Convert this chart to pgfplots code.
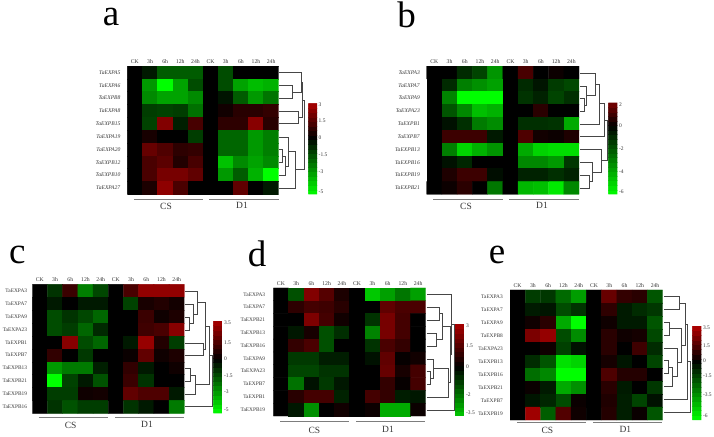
\documentclass[border=0pt]{standalone}
\usepackage{fontspec}
\setmainfont{Liberation Serif}
\usepackage{pgfplots}
\pgfplotsset{compat=1.18}
\definecolor{txt}{RGB}{55,55,55}
\definecolor{dend}{RGB}{70,70,70}
\definecolor{grp}{RGB}{125,125,125}
\pgfplotsset{
 colormap={ca}{rgb255(0cm)=(0,255,0); rgb255(5cm)=(0,0,0); rgb255(8cm)=(170,0,0)},
 colormap={cb}{rgb255(0cm)=(0,255,0); rgb255(6cm)=(0,0,0); rgb255(8cm)=(120,0,0)},
 colormap={cc}{rgb255(0cm)=(0,255,0); rgb255(10cm)=(0,0,0); rgb255(17cm)=(170,0,0)},
 colormap={cd}{rgb255(0cm)=(0,200,0); rgb255(7cm)=(0,0,0); rgb255(13cm)=(170,0,0)},
 colormap={ce}{rgb255(0cm)=(0,255,0); rgb255(12cm)=(0,0,0); rgb255(19cm)=(180,0,0)},
 heat/.style n args={7}{% x0, y top, y bottom, x1, min, max, labelfont
  at={(#1pt,436pt-#3pt)},anchor=south west,scale only axis,
  width=#4pt-#1pt,height=#3pt-#2pt,
  xmin=-0.5,xmax=9.5,ymin=-0.5,ymax=9.5,y dir=reverse,
  point meta min=#5,point meta max=#6,
  xtick={0,...,9},ytick={0,...,9},
  xticklabels={CK,3h,6h,12h,24h,CK,3h,6h,12h,24h},
  xticklabel pos=upper,
  major tick length=0pt,axis line style={draw=none},
  x tick label style={font=\fontsize{5.7}{6}\selectfont,text=txt,inner sep=0pt,anchor=base,yshift=2.5pt},
  y tick label style={font=\fontsize{#7}{6}\selectfont,text=txt,inner sep=0pt,xshift=-5pt},
  colorbar sampled,
 },
 cbar/.style n args={4}{% xshift, width, height, ticks
  colorbar style={samples=21,at={(parent axis.south east)},anchor=south west,
   xshift=#1pt-8.5pt,width=#2pt,height=#3pt,
   major tick length=0pt,axis line style={draw=none},
   y tick label style={font=\fontsize{5.5}{6}\selectfont,text=txt,inner sep=0pt,xshift=1.5pt},
   #4},
 },
 hm/.style={matrix plot*,mesh/cols=10,point meta=explicit},
 dd/.style={draw=dend,line width=0.6pt,no marks,line join=miter},
 gl/.style={draw=grp,line width=0.9pt,no marks},
 over/.style 2 args={% reference crop offset
  at={(0pt,0pt)},anchor=south west,scale only axis,width=714pt,height=436pt,hide axis,clip=false,
  xmin={-3*#1},xmax={3*(714-#1)},ymin={-3*#2},ymax={3*(436-#2)},y dir=reverse},
}
\newcommand{\fs}[2]{\fontsize{#1}{#1}\selectfont #2}
\tikzset{letter/.style={inner sep=0pt,anchor=base}}
\begin{document}
\begin{tikzpicture}
\path[use as bounding box] (0pt,0pt) rectangle (714pt,436pt);
% ---------- panel a
\begin{axis}[heat={127.3}{66}{194.3}{278.7}{-5}{3}{5.6},colormap name=ca,
  y tick label style={xshift=-1.7pt},
  yticklabels={\emph{TaEXPA5},\emph{TaEXPA6},\emph{TaEXPB8},\emph{TaEXPA8},\emph{TaEXPB15},\emph{TaEXPA19},\emph{TaEXPA20},\emph{TaEXPB12},\emph{TaEXPB10},\emph{TaEXPA27}},
  cbar={29.6}{8.7}{91}{ytick={2.9,1.5,0,-1.5,-3,-4.8},yticklabels={3,1.5,0,-1.5,-3,-5}}]
\addplot[hm] table[header=false,row sep=\\,x expr={mod(\coordindex,10)},y expr={floor(\coordindex/10)},meta index=0]{
0\\-0.5\\-1.8\\-1.8\\-1.8\\0\\-1.5\\0\\0\\0\\
0\\-3\\-5\\-3.2\\-1.5\\0\\-1.5\\-3.2\\-3.7\\-3.5\\
0\\-2.7\\-3.2\\-3.2\\-2.7\\0\\-0.4\\-1.8\\-3\\-2.3\\
0\\-1.2\\-1.3\\-1.2\\-2.2\\0\\0.3\\0.7\\0.7\\0.9\\
0\\-1.3\\2.3\\-0.6\\1.2\\0\\0.8\\0.8\\2.4\\0.7\\
0\\0.4\\0\\0\\-1.2\\0\\-2\\-2\\-3\\-2.5\\
0\\1.8\\1.4\\0.8\\0.9\\0\\-2\\-2\\-3\\-2.5\\
0\\1.3\\1.6\\0.6\\1.2\\0\\-3.8\\-2.7\\-3.2\\-2.7\\
0\\1.3\\2.1\\2.1\\1.7\\0\\-3\\-1.8\\-3.5\\-5\\
0\\0.5\\2.5\\1.3\\0\\0\\0\\1.7\\0\\-0.5\\
};
\end{axis}
% ---------- panel b
\begin{axis}[heat={426.7}{66}{194.3}{579}{-6}{2}{5.6},colormap name=cb,
  y tick label style={xshift=-1.7pt},
  yticklabels={\emph{TaEXPA3},\emph{TaEXPA7},\emph{TaEXPA9},\emph{TaEXPA23},\emph{TaEXPB1},\emph{TaEXPB7},\emph{TaEXPB13},\emph{TaEXPB16},\emph{TaEXPB19},\emph{TaEXPB21}},
  cbar={29.3}{9}{91.7}{ytick={1.85,0,-2,-4,-5.8},yticklabels={2,0,-2,-4,-6}}]
\addplot[hm] table[header=false,row sep=\\,x expr={mod(\coordindex,10)},y expr={floor(\coordindex/10)},meta index=0]{
0\\0\\-1\\-1.6\\-3.5\\0\\1.2\\0\\0.2\\0\\
0\\-1\\-3\\-3.4\\-3.8\\0\\-1\\-0.5\\-1.4\\-1.7\\
0\\-3.1\\-6\\-6\\-6\\0\\-1.2\\-0.8\\-1.6\\-1.1\\
0\\-2\\-3.2\\-4.5\\-4.2\\0\\0\\0.7\\0\\0\\
0\\-0.4\\-1.1\\-2.9\\-3.3\\0\\-1.1\\-1.1\\-1.2\\-4\\
0\\1\\1\\1\\-0.6\\0\\1.3\\0.3\\0.2\\0.5\\
0\\-3\\-5\\-4.2\\-3.5\\0\\-4\\-5\\-5.2\\-5.2\\
0\\-0.4\\-0.9\\0\\0\\0\\-3.2\\-3.2\\-3.6\\-1.3\\
0\\0.5\\1\\1\\-0.3\\0\\-0.8\\-0.8\\-1.1\\-0.8\\
0\\0.2\\0.7\\0\\-2.8\\0\\-4.3\\-4.5\\-5.5\\-3.2\\
};
\end{axis}
% ---------- panel c
\begin{axis}[heat={32.3}{284.3}{413.3}{184.3}{-5}{3.5}{5.4},colormap name=cc,
  yticklabels={TaEXPA3,TaEXPA7,TaEXPA9,TaEXPA23,TaEXPB1,TaEXPB7,TaEXPB13,TaEXPB21,TaEXPB19,TaEXPB16},
  cbar={29}{9}{92.3}{ytick={3.3,1.5,0,-1.5,-3,-4.7},yticklabels={3.5,1.5,0,-1.5,-3,-5}}]
\addplot[hm] table[header=false,row sep=\\,x expr={mod(\coordindex,10)},y expr={floor(\coordindex/10)},meta index=0]{
0\\-1\\1.2\\-2.5\\-1.4\\0\\1.5\\3\\3\\3\\
0\\-0.5\\0\\-0.5\\-0.5\\0\\-1.3\\0.5\\0.7\\0.4\\
0\\-1.5\\-1\\-1.4\\-2\\0\\0\\1.2\\0.3\\0.6\\
0\\-1.5\\-1.2\\-2\\-0.8\\0\\0\\1.3\\1.5\\2.8\\
0\\0\\2.8\\-1.5\\-2\\0\\-0.5\\3.1\\0.7\\-1.2\\
0\\1\\0\\-1.1\\0\\0\\0.2\\2\\0.3\\0.6\\
0\\-3\\-2.4\\-2.4\\-0.6\\0\\1\\-0.5\\0\\0.3\\
0\\-5\\-1.3\\-0.5\\-1.6\\0\\1.2\\-1\\0\\0\\
0\\-1.2\\-1.2\\0.3\\0.4\\0\\2\\1.6\\1.6\\-0.5\\
0\\-1\\-1.6\\-1.2\\-1.2\\0\\-1\\-0.5\\0\\-2.4\\
};
\end{axis}
% ---------- panel d
\begin{axis}[heat={273.3}{288}{416}{425.7}{-3.5}{3}{5.4},colormap name=cd,
  y tick label style={xshift=-3pt},
  yticklabels={TaEXPA3,TaEXPA7,TaEXPB21,TaEXPB13,TaEXPB16,TaEXPA9,TaEXPA23,TaEXPB7,TaEXPB1,TaEXPB19},
  cbar={29.3}{9.3}{92}{ytick={2.9,1.5,0,-2,-3.3},yticklabels={3,1.5,0,-2,-3.5}}]
\addplot[hm] table[header=false,row sep=\\,x expr={mod(\coordindex,10)},y expr={floor(\coordindex/10)},meta index=0]{
0\\-1.4\\2.3\\1.5\\0.5\\0\\-3.5\\-2.8\\-2.1\\-2.8\\
0\\0.8\\1.2\\1.1\\0.7\\0\\0\\1.7\\1.3\\1.3\\
0\\0\\2.2\\1.2\\0.3\\0\\-0.9\\2.1\\1.2\\0\\
0\\-0.4\\0.4\\-1.4\\-0.8\\0\\-2.3\\2.1\\1.2\\0\\
0\\0.9\\1.3\\-1.4\\0\\0\\-0.9\\1.3\\0.9\\0\\
0\\-1\\-1\\-0.5\\-0.5\\0\\-0.3\\1.7\\0.1\\0.3\\
0\\-1.2\\-1.2\\-0.9\\-0.9\\0\\0\\1.8\\0.4\\1.2\\
0\\-2\\-0.3\\-1\\-0.4\\0\\0\\0.9\\0.1\\1.2\\
0\\0.7\\1.2\\1.2\\-0.6\\0\\1.2\\0.9\\-0.5\\-0.4\\
0\\-0.4\\-2.5\\0\\0.3\\0\\0.2\\-3\\-3\\0.2\\
};
\end{axis}
% ---------- panel e
\begin{axis}[heat={510}{290}{420}{662.7}{-6}{3.5}{5.4},colormap name=ce,
  y tick label style={xshift=-2pt},
  yticklabels={TaEXPA3,TaEXPA7,TaEXPA9,TaEXPB8,TaEXPA23,TaEXPB13,TaEXPB16,TaEXPB21,TaEXPB7,TaEXPB19},
  cbar={29.6}{9}{94.3}{ytick={3.3,1.5,0,-1.5,-3.5,-5.6},yticklabels={3.5,1.5,0,-1.5,-3.5,-6}}]
\addplot[hm] table[header=false,row sep=\\,x expr={mod(\coordindex,10)},y expr={floor(\coordindex/10)},meta index=0]{
0\\-1.4\\-1.3\\-2.5\\-3.7\\0\\2\\1\\0.8\\-2\\
0\\-0.6\\-0.5\\-1.8\\-1.2\\0\\0.9\\-0.6\\-1\\-1.3\\
0\\0.3\\0.8\\-4\\-6\\0\\0.3\\-0.6\\-0.6\\-2\\
0\\2.4\\2.9\\-1.8\\-3.3\\0\\0.8\\0.3\\0.4\\-1.7\\
0\\0\\0.3\\-1.5\\-0.4\\0\\0.8\\0\\1.2\\-1\\
0\\-1\\-2\\-5.3\\-5\\0\\0.4\\-0.5\\0\\-1.6\\
0\\-2.6\\-3.2\\-6\\-6\\0\\1.5\\0.7\\0.7\\0\\
0\\0.2\\-0.6\\-4\\-3.4\\0\\0.8\\-0.6\\0\\-1.3\\
0\\-0.5\\-0.9\\-1.8\\0.2\\0\\0.6\\-0.7\\-1.6\\-0.4\\
0\\3.1\\-2.2\\1.6\\0.3\\0\\0.7\\-0.7\\0.2\\-2\\
};
\end{axis}
% ---------- overlays: dendrograms, group rules, titles (crop coordinates)
\begin{axis}[over={80}{40}]
\addplot[dd] coordinates {(598,137)(638,137)(638,176)(598,176)};
\addplot[dd] coordinates {(598,98)(664,98)(664,156)(638,156)};
\addplot[dd] coordinates {(598,213)(654,213)(654,250)(598,250)};
\addplot[dd] coordinates {(664,127)(668,127)(668,232)(654,232)};
\addplot[dd] coordinates {(598,329)(608,329)(608,368)(598,368)};
\addplot[dd] coordinates {(608,349)(616,349)(616,406)(598,406)};
\addplot[dd] coordinates {(616,378)(625,378)(625,291)(598,291)};
\addplot[dd] coordinates {(625,334)(647,334)(647,444)(598,444)};
\addplot[dd] coordinates {(668,180)(672,180)(672,389)(647,389)};
\addplot[gl] coordinates {(163,477)(368,477)};
\addplot[gl] coordinates {(388,477)(596,477)};
\node[text=txt] at (axis cs:258,498) {\fs{9.5}{CS}};
\node[text=txt] at (axis cs:486,497) {\fs{9.5}{D1}};
\node[letter] at (axis cs:93,-42) {\fs{37}{a}};
\end{axis}
\begin{axis}[over={400}{40}]
\addplot[dd] coordinates {(540,176)(552,176)(552,214)(540,214)};
\addplot[dd] coordinates {(552,195)(558,195)(558,138)(540,138)};
\addplot[dd] coordinates {(558,166)(586,166)(586,100)(540,100)};
\addplot[dd] coordinates {(586,133)(598,133)(598,252)(540,252)};
\addplot[dd] coordinates {(598,191)(614,191)(614,290)(540,290)};
\addplot[dd] coordinates {(540,406)(568,406)(568,444)(540,444)};
\addplot[dd] coordinates {(568,425)(578,425)(578,368)(540,368)};
\addplot[dd] coordinates {(578,396)(604,396)(604,328)(540,328)};
\addplot[dd] coordinates {(614,240)(622,240)(622,362)(604,362)};
\addplot[gl] coordinates {(100,478)(308,478)};
\addplot[gl] coordinates {(328,478)(536,478)};
\node[text=txt] at (axis cs:198,499) {\fs{9.5}{CS}};
\node[text=txt] at (axis cs:426,497) {\fs{9.5}{D1}};
\node[letter] at (axis cs:19.5,-36) {\fs{37}{b}};
\end{axis}
\begin{axis}[over={0}{240}]
\addplot[dd] coordinates {(556,232)(567,232)(567,270)(556,270)};
\addplot[dd] coordinates {(567,251)(580,251)(580,193)(556,193)};
\addplot[dd] coordinates {(580,222)(592,222)(592,155)(556,155)};
\addplot[dd] coordinates {(556,309)(611,309)(611,347)(556,347)};
\addplot[dd] coordinates {(592,188)(617,188)(617,328)(611,328)};
\addplot[dd] coordinates {(556,386)(572,386)(572,424)(556,424)};
\addplot[dd] coordinates {(572,405)(585,405)(585,462)(556,462)};
\addplot[dd] coordinates {(617,258)(627,258)(627,433)(585,433)};
\addplot[dd] coordinates {(627,345)(637,345)(637,500)(556,500)};
\addplot[gl] coordinates {(116,533)(324,533)};
\addplot[gl] coordinates {(345,533)(552,533)};
\node[text=txt] at (axis cs:212,555) {\fs{9.5}{CS}};
\node[text=txt] at (axis cs:441,553) {\fs{9.5}{D1}};
\node[letter] at (axis cs:52,69) {\fs{37}{c}};
\end{axis}
\begin{axis}[over={235}{240}]
\addplot[dd] coordinates {(575,202)(612,202)(612,241)(575,241)};
\addplot[dd] coordinates {(575,280)(603,280)(603,318)(575,318)};
\addplot[dd] coordinates {(612,221)(622,221)(622,299)(603,299)};
\addplot[dd] coordinates {(575,395)(585,395)(585,434)(575,434)};
\addplot[dd] coordinates {(585,414)(594,414)(594,357)(575,357)};
\addplot[dd] coordinates {(594,385)(640,385)(640,472)(575,472)};
\addplot[dd] coordinates {(622,260)(645,260)(645,428)(640,428)};
\addplot[dd] coordinates {(645,344)(650,344)(650,163)(575,163)};
\addplot[dd] coordinates {(650,253)(658,253)(658,510)(575,510)};
\addplot[gl] coordinates {(135,543)(342,543)};
\addplot[gl] coordinates {(363,543)(570,543)};
\node[text=txt] at (axis cs:238,571) {\fs{9.5}{CS}};
\node[text=txt] at (axis cs:459,568) {\fs{9.5}{D1}};
\node[letter] at (axis cs:66,80) {\fs{37}{d}};
\end{axis}
\begin{axis}[over={474}{240}]
\addplot[dd] coordinates {(570,170)(616,170)(616,208)(570,208)};
\addplot[dd] coordinates {(570,247)(585,247)(585,285)(570,285)};
\addplot[dd] coordinates {(570,362)(582,362)(582,400)(570,400)};
\addplot[dd] coordinates {(582,381)(596,381)(596,439)(570,439)};
\addplot[dd] coordinates {(596,410)(610,410)(610,324)(570,324)};
\addplot[dd] coordinates {(585,266)(622,266)(622,367)(610,367)};
\addplot[dd] coordinates {(616,189)(634,189)(634,316)(622,316)};
\addplot[dd] coordinates {(634,252)(640,252)(640,478)(570,478)};
\addplot[dd] coordinates {(640,365)(648,365)(648,517)(570,517)};
\addplot[gl] coordinates {(130,548)(336,548)};
\addplot[gl] coordinates {(357,548)(565,548)};
\node[text=txt] at (axis cs:220,571) {\fs{9.5}{CS}};
\node[text=txt] at (axis cs:454,568) {\fs{9.5}{D1}};
\node[letter] at (axis cs:69,70) {\fs{37}{e}};
\end{axis}
\end{tikzpicture}
\end{document}
